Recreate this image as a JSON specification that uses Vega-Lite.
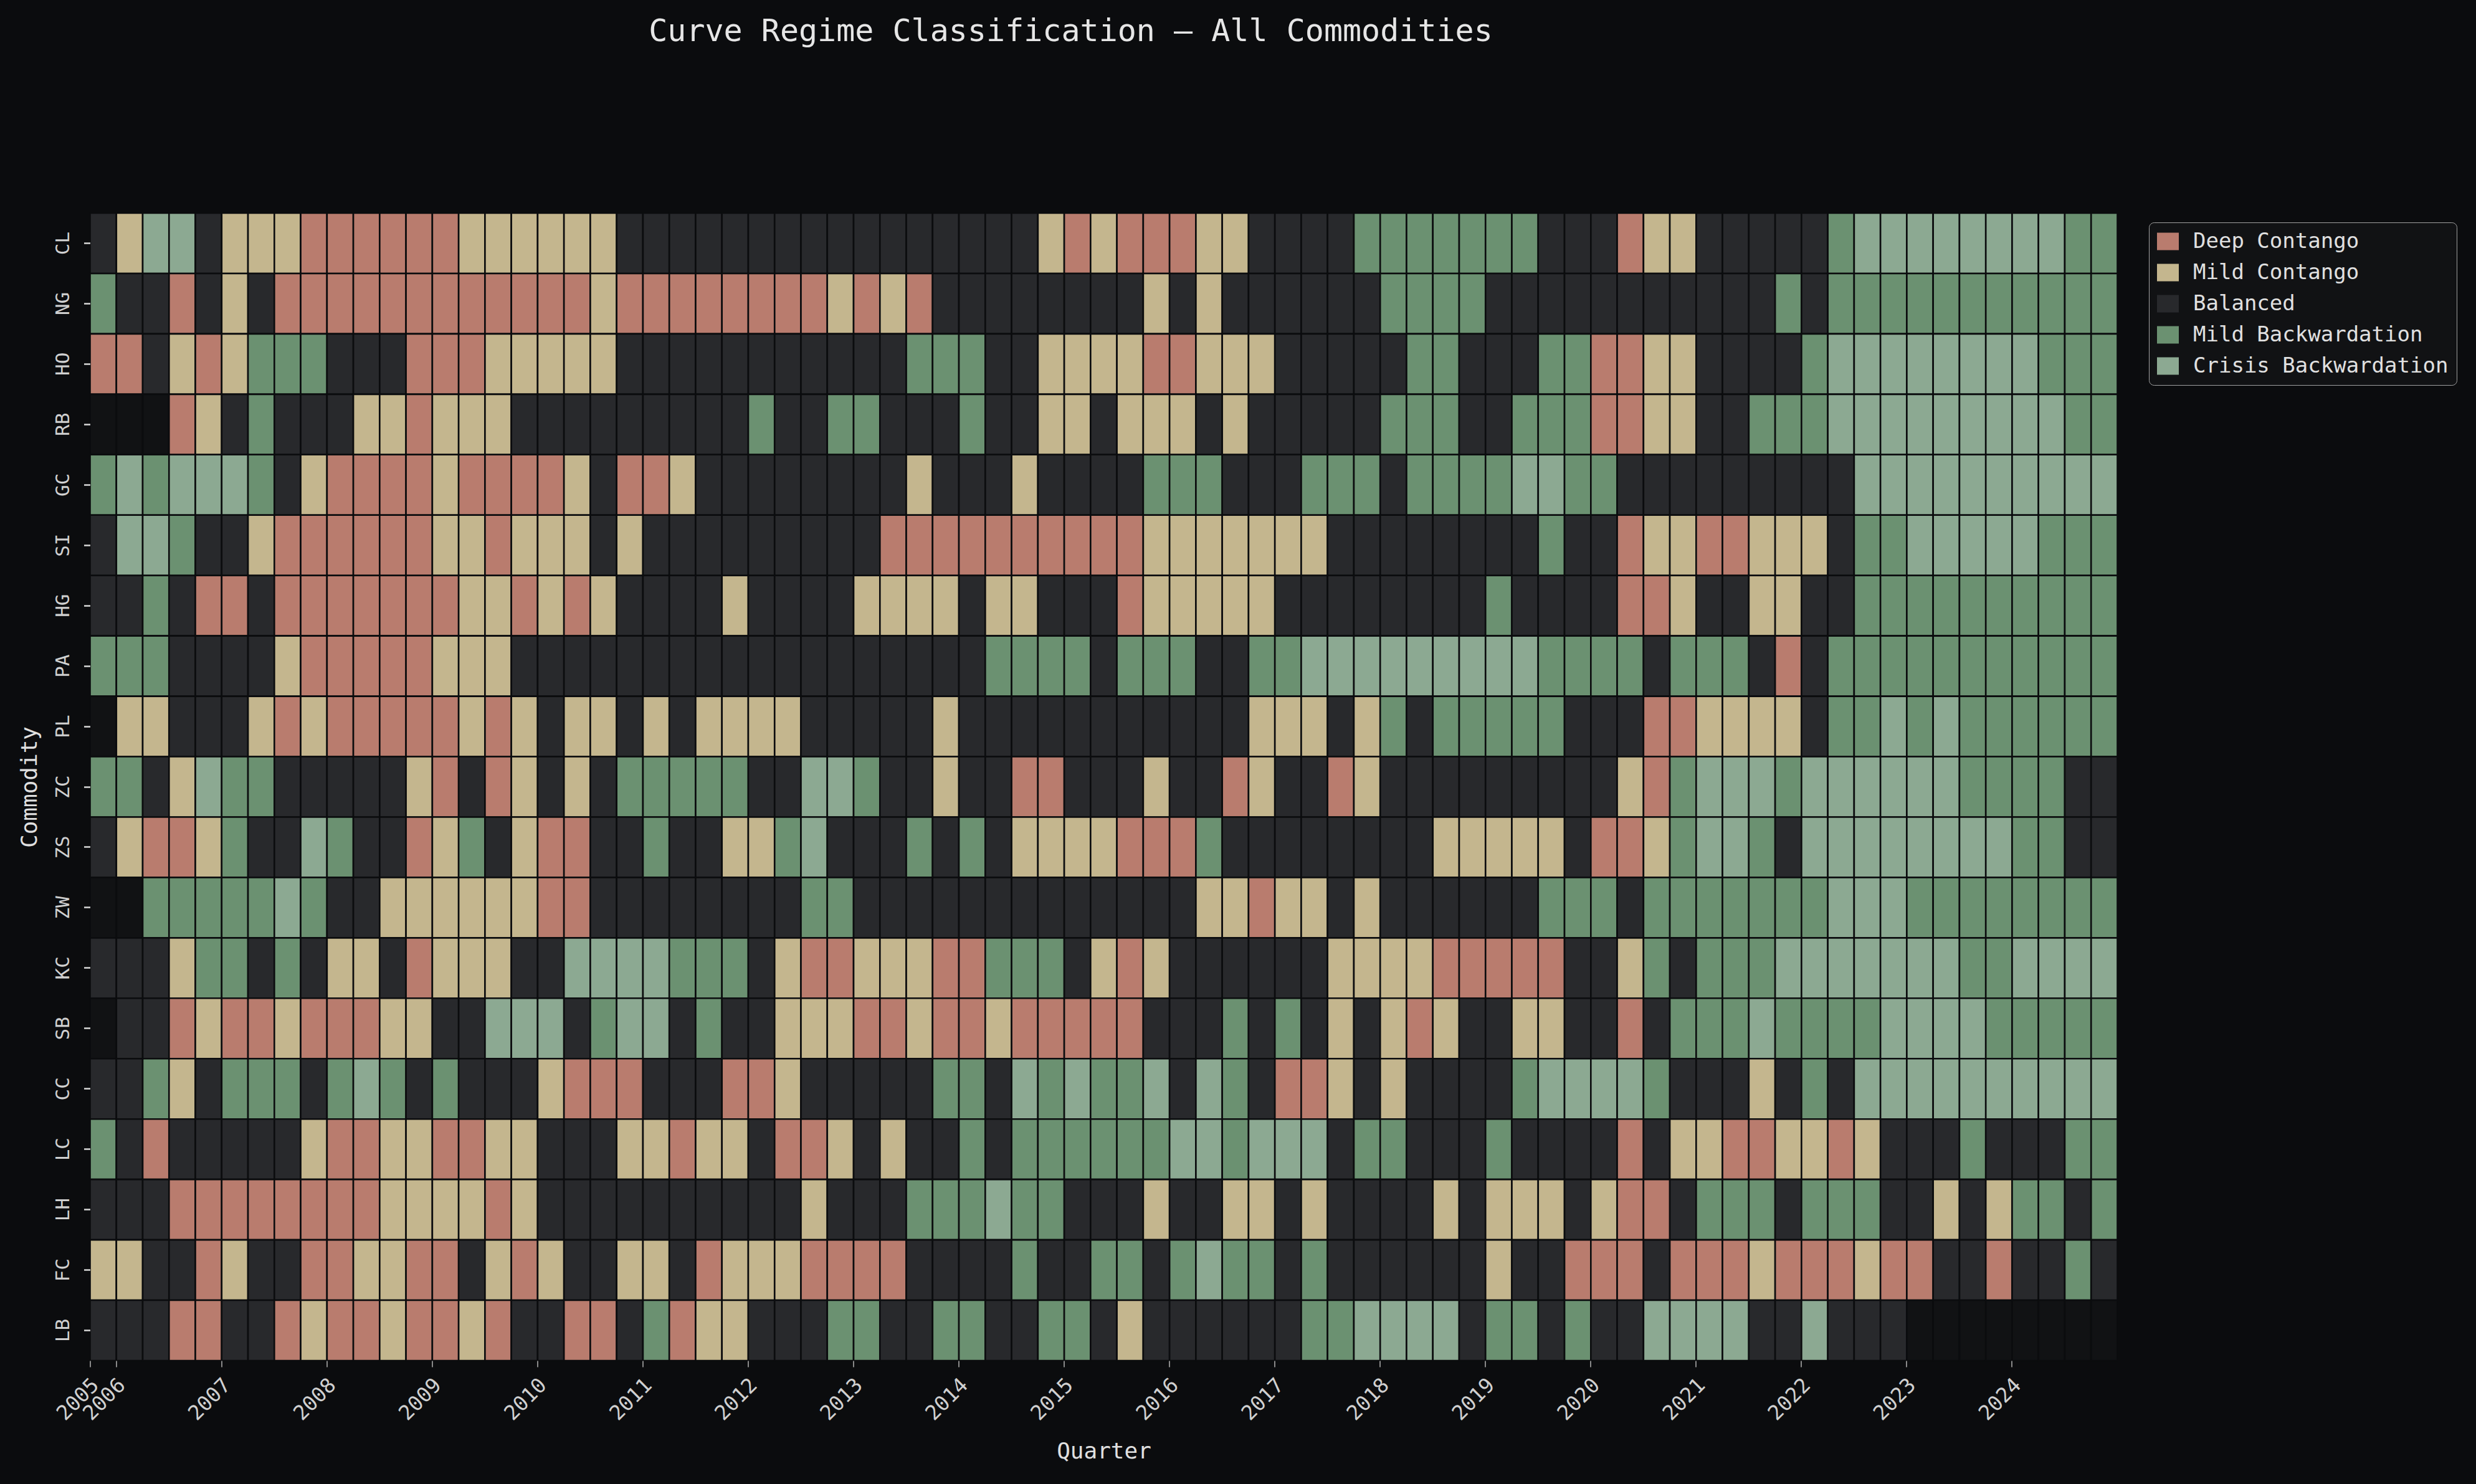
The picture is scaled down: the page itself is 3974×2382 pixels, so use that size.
{
"$schema": "https://vega.github.io/schema/vega-lite/v6.json",
"width": 3254, "height": 1842,
"autosize": {"type": "none"},
"padding": {"left": 144.5, "top": 342, "right": 575.5, "bottom": 198},
"background": "#0b0c0e",
"config": {"view": {"stroke": null, "fill": "#0b0c0e"}, "font": "DejaVu Sans Mono"},
"title": {"text": "Curve Regime Classification — All Commodities", "font": "DejaVu Sans Mono", "fontSize": 50, "fontWeight": "normal", "color": "#e6e6e6", "anchor": "middle", "dx": -53, "baseline": "middle", "offset": 240},
"datasets": {"regimes": [
{"r":"D","regime":"Deep Contango"},{"r":"M","regime":"Mild Contango"},{"r":"B","regime":"Balanced"},{"r":"G","regime":"Mild Backwardation"},{"r":"C","regime":"Crisis Backwardation"},{"r":"N","regime":"No Data"}]},
"data": {"values": [
{"c":"CL","q":"2005Q4","r":"B"},
{"c":"CL","q":"2006Q1","r":"M"},{"c":"CL","q":"2006Q2","r":"C"},{"c":"CL","q":"2006Q3","r":"C"},{"c":"CL","q":"2006Q4","r":"B"},
{"c":"CL","q":"2007Q1","r":"M"},{"c":"CL","q":"2007Q2","r":"M"},{"c":"CL","q":"2007Q3","r":"M"},{"c":"CL","q":"2007Q4","r":"D"},
{"c":"CL","q":"2008Q1","r":"D"},{"c":"CL","q":"2008Q2","r":"D"},{"c":"CL","q":"2008Q3","r":"D"},{"c":"CL","q":"2008Q4","r":"D"},
{"c":"CL","q":"2009Q1","r":"D"},{"c":"CL","q":"2009Q2","r":"M"},{"c":"CL","q":"2009Q3","r":"M"},{"c":"CL","q":"2009Q4","r":"M"},
{"c":"CL","q":"2010Q1","r":"M"},{"c":"CL","q":"2010Q2","r":"M"},{"c":"CL","q":"2010Q3","r":"M"},{"c":"CL","q":"2010Q4","r":"B"},
{"c":"CL","q":"2011Q1","r":"B"},{"c":"CL","q":"2011Q2","r":"B"},{"c":"CL","q":"2011Q3","r":"B"},{"c":"CL","q":"2011Q4","r":"B"},
{"c":"CL","q":"2012Q1","r":"B"},{"c":"CL","q":"2012Q2","r":"B"},{"c":"CL","q":"2012Q3","r":"B"},{"c":"CL","q":"2012Q4","r":"B"},
{"c":"CL","q":"2013Q1","r":"B"},{"c":"CL","q":"2013Q2","r":"B"},{"c":"CL","q":"2013Q3","r":"B"},{"c":"CL","q":"2013Q4","r":"B"},
{"c":"CL","q":"2014Q1","r":"B"},{"c":"CL","q":"2014Q2","r":"B"},{"c":"CL","q":"2014Q3","r":"B"},{"c":"CL","q":"2014Q4","r":"M"},
{"c":"CL","q":"2015Q1","r":"D"},{"c":"CL","q":"2015Q2","r":"M"},{"c":"CL","q":"2015Q3","r":"D"},{"c":"CL","q":"2015Q4","r":"D"},
{"c":"CL","q":"2016Q1","r":"D"},{"c":"CL","q":"2016Q2","r":"M"},{"c":"CL","q":"2016Q3","r":"M"},{"c":"CL","q":"2016Q4","r":"B"},
{"c":"CL","q":"2017Q1","r":"B"},{"c":"CL","q":"2017Q2","r":"B"},{"c":"CL","q":"2017Q3","r":"B"},{"c":"CL","q":"2017Q4","r":"G"},
{"c":"CL","q":"2018Q1","r":"G"},{"c":"CL","q":"2018Q2","r":"G"},{"c":"CL","q":"2018Q3","r":"G"},{"c":"CL","q":"2018Q4","r":"G"},
{"c":"CL","q":"2019Q1","r":"G"},{"c":"CL","q":"2019Q2","r":"G"},{"c":"CL","q":"2019Q3","r":"B"},{"c":"CL","q":"2019Q4","r":"B"},
{"c":"CL","q":"2020Q1","r":"B"},{"c":"CL","q":"2020Q2","r":"D"},{"c":"CL","q":"2020Q3","r":"M"},{"c":"CL","q":"2020Q4","r":"M"},
{"c":"CL","q":"2021Q1","r":"B"},{"c":"CL","q":"2021Q2","r":"B"},{"c":"CL","q":"2021Q3","r":"B"},{"c":"CL","q":"2021Q4","r":"B"},
{"c":"CL","q":"2022Q1","r":"B"},{"c":"CL","q":"2022Q2","r":"G"},{"c":"CL","q":"2022Q3","r":"C"},{"c":"CL","q":"2022Q4","r":"C"},
{"c":"CL","q":"2023Q1","r":"C"},{"c":"CL","q":"2023Q2","r":"C"},{"c":"CL","q":"2023Q3","r":"C"},{"c":"CL","q":"2023Q4","r":"C"},
{"c":"CL","q":"2024Q1","r":"C"},{"c":"CL","q":"2024Q2","r":"C"},{"c":"CL","q":"2024Q3","r":"G"},{"c":"CL","q":"2024Q4","r":"G"},
{"c":"NG","q":"2005Q4","r":"G"},
{"c":"NG","q":"2006Q1","r":"B"},{"c":"NG","q":"2006Q2","r":"B"},{"c":"NG","q":"2006Q3","r":"D"},{"c":"NG","q":"2006Q4","r":"B"},
{"c":"NG","q":"2007Q1","r":"M"},{"c":"NG","q":"2007Q2","r":"B"},{"c":"NG","q":"2007Q3","r":"D"},{"c":"NG","q":"2007Q4","r":"D"},
{"c":"NG","q":"2008Q1","r":"D"},{"c":"NG","q":"2008Q2","r":"D"},{"c":"NG","q":"2008Q3","r":"D"},{"c":"NG","q":"2008Q4","r":"D"},
{"c":"NG","q":"2009Q1","r":"D"},{"c":"NG","q":"2009Q2","r":"D"},{"c":"NG","q":"2009Q3","r":"D"},{"c":"NG","q":"2009Q4","r":"D"},
{"c":"NG","q":"2010Q1","r":"D"},{"c":"NG","q":"2010Q2","r":"D"},{"c":"NG","q":"2010Q3","r":"M"},{"c":"NG","q":"2010Q4","r":"D"},
{"c":"NG","q":"2011Q1","r":"D"},{"c":"NG","q":"2011Q2","r":"D"},{"c":"NG","q":"2011Q3","r":"D"},{"c":"NG","q":"2011Q4","r":"D"},
{"c":"NG","q":"2012Q1","r":"D"},{"c":"NG","q":"2012Q2","r":"D"},{"c":"NG","q":"2012Q3","r":"D"},{"c":"NG","q":"2012Q4","r":"M"},
{"c":"NG","q":"2013Q1","r":"D"},{"c":"NG","q":"2013Q2","r":"M"},{"c":"NG","q":"2013Q3","r":"D"},{"c":"NG","q":"2013Q4","r":"B"},
{"c":"NG","q":"2014Q1","r":"B"},{"c":"NG","q":"2014Q2","r":"B"},{"c":"NG","q":"2014Q3","r":"B"},{"c":"NG","q":"2014Q4","r":"B"},
{"c":"NG","q":"2015Q1","r":"B"},{"c":"NG","q":"2015Q2","r":"B"},{"c":"NG","q":"2015Q3","r":"B"},{"c":"NG","q":"2015Q4","r":"M"},
{"c":"NG","q":"2016Q1","r":"B"},{"c":"NG","q":"2016Q2","r":"M"},{"c":"NG","q":"2016Q3","r":"B"},{"c":"NG","q":"2016Q4","r":"B"},
{"c":"NG","q":"2017Q1","r":"B"},{"c":"NG","q":"2017Q2","r":"B"},{"c":"NG","q":"2017Q3","r":"B"},{"c":"NG","q":"2017Q4","r":"B"},
{"c":"NG","q":"2018Q1","r":"G"},{"c":"NG","q":"2018Q2","r":"G"},{"c":"NG","q":"2018Q3","r":"G"},{"c":"NG","q":"2018Q4","r":"G"},
{"c":"NG","q":"2019Q1","r":"B"},{"c":"NG","q":"2019Q2","r":"B"},{"c":"NG","q":"2019Q3","r":"B"},{"c":"NG","q":"2019Q4","r":"B"},
{"c":"NG","q":"2020Q1","r":"B"},{"c":"NG","q":"2020Q2","r":"B"},{"c":"NG","q":"2020Q3","r":"B"},{"c":"NG","q":"2020Q4","r":"B"},
{"c":"NG","q":"2021Q1","r":"B"},{"c":"NG","q":"2021Q2","r":"B"},{"c":"NG","q":"2021Q3","r":"B"},{"c":"NG","q":"2021Q4","r":"G"},
{"c":"NG","q":"2022Q1","r":"B"},{"c":"NG","q":"2022Q2","r":"G"},{"c":"NG","q":"2022Q3","r":"G"},{"c":"NG","q":"2022Q4","r":"G"},
{"c":"NG","q":"2023Q1","r":"G"},{"c":"NG","q":"2023Q2","r":"G"},{"c":"NG","q":"2023Q3","r":"G"},{"c":"NG","q":"2023Q4","r":"G"},
{"c":"NG","q":"2024Q1","r":"G"},{"c":"NG","q":"2024Q2","r":"G"},{"c":"NG","q":"2024Q3","r":"G"},{"c":"NG","q":"2024Q4","r":"G"},
{"c":"HO","q":"2005Q4","r":"D"},
{"c":"HO","q":"2006Q1","r":"D"},{"c":"HO","q":"2006Q2","r":"B"},{"c":"HO","q":"2006Q3","r":"M"},{"c":"HO","q":"2006Q4","r":"D"},
{"c":"HO","q":"2007Q1","r":"M"},{"c":"HO","q":"2007Q2","r":"G"},{"c":"HO","q":"2007Q3","r":"G"},{"c":"HO","q":"2007Q4","r":"G"},
{"c":"HO","q":"2008Q1","r":"B"},{"c":"HO","q":"2008Q2","r":"B"},{"c":"HO","q":"2008Q3","r":"B"},{"c":"HO","q":"2008Q4","r":"D"},
{"c":"HO","q":"2009Q1","r":"D"},{"c":"HO","q":"2009Q2","r":"D"},{"c":"HO","q":"2009Q3","r":"M"},{"c":"HO","q":"2009Q4","r":"M"},
{"c":"HO","q":"2010Q1","r":"M"},{"c":"HO","q":"2010Q2","r":"M"},{"c":"HO","q":"2010Q3","r":"M"},{"c":"HO","q":"2010Q4","r":"B"},
{"c":"HO","q":"2011Q1","r":"B"},{"c":"HO","q":"2011Q2","r":"B"},{"c":"HO","q":"2011Q3","r":"B"},{"c":"HO","q":"2011Q4","r":"B"},
{"c":"HO","q":"2012Q1","r":"B"},{"c":"HO","q":"2012Q2","r":"B"},{"c":"HO","q":"2012Q3","r":"B"},{"c":"HO","q":"2012Q4","r":"B"},
{"c":"HO","q":"2013Q1","r":"B"},{"c":"HO","q":"2013Q2","r":"B"},{"c":"HO","q":"2013Q3","r":"G"},{"c":"HO","q":"2013Q4","r":"G"},
{"c":"HO","q":"2014Q1","r":"G"},{"c":"HO","q":"2014Q2","r":"B"},{"c":"HO","q":"2014Q3","r":"B"},{"c":"HO","q":"2014Q4","r":"M"},
{"c":"HO","q":"2015Q1","r":"M"},{"c":"HO","q":"2015Q2","r":"M"},{"c":"HO","q":"2015Q3","r":"M"},{"c":"HO","q":"2015Q4","r":"D"},
{"c":"HO","q":"2016Q1","r":"D"},{"c":"HO","q":"2016Q2","r":"M"},{"c":"HO","q":"2016Q3","r":"M"},{"c":"HO","q":"2016Q4","r":"M"},
{"c":"HO","q":"2017Q1","r":"B"},{"c":"HO","q":"2017Q2","r":"B"},{"c":"HO","q":"2017Q3","r":"B"},{"c":"HO","q":"2017Q4","r":"B"},
{"c":"HO","q":"2018Q1","r":"B"},{"c":"HO","q":"2018Q2","r":"G"},{"c":"HO","q":"2018Q3","r":"G"},{"c":"HO","q":"2018Q4","r":"B"},
{"c":"HO","q":"2019Q1","r":"B"},{"c":"HO","q":"2019Q2","r":"B"},{"c":"HO","q":"2019Q3","r":"G"},{"c":"HO","q":"2019Q4","r":"G"},
{"c":"HO","q":"2020Q1","r":"D"},{"c":"HO","q":"2020Q2","r":"D"},{"c":"HO","q":"2020Q3","r":"M"},{"c":"HO","q":"2020Q4","r":"M"},
{"c":"HO","q":"2021Q1","r":"B"},{"c":"HO","q":"2021Q2","r":"B"},{"c":"HO","q":"2021Q3","r":"B"},{"c":"HO","q":"2021Q4","r":"B"},
{"c":"HO","q":"2022Q1","r":"G"},{"c":"HO","q":"2022Q2","r":"C"},{"c":"HO","q":"2022Q3","r":"C"},{"c":"HO","q":"2022Q4","r":"C"},
{"c":"HO","q":"2023Q1","r":"C"},{"c":"HO","q":"2023Q2","r":"C"},{"c":"HO","q":"2023Q3","r":"C"},{"c":"HO","q":"2023Q4","r":"C"},
{"c":"HO","q":"2024Q1","r":"C"},{"c":"HO","q":"2024Q2","r":"G"},{"c":"HO","q":"2024Q3","r":"G"},{"c":"HO","q":"2024Q4","r":"G"},
{"c":"RB","q":"2005Q4","r":"N"},
{"c":"RB","q":"2006Q1","r":"N"},{"c":"RB","q":"2006Q2","r":"N"},{"c":"RB","q":"2006Q3","r":"D"},{"c":"RB","q":"2006Q4","r":"M"},
{"c":"RB","q":"2007Q1","r":"B"},{"c":"RB","q":"2007Q2","r":"G"},{"c":"RB","q":"2007Q3","r":"B"},{"c":"RB","q":"2007Q4","r":"B"},
{"c":"RB","q":"2008Q1","r":"B"},{"c":"RB","q":"2008Q2","r":"M"},{"c":"RB","q":"2008Q3","r":"M"},{"c":"RB","q":"2008Q4","r":"D"},
{"c":"RB","q":"2009Q1","r":"M"},{"c":"RB","q":"2009Q2","r":"M"},{"c":"RB","q":"2009Q3","r":"M"},{"c":"RB","q":"2009Q4","r":"B"},
{"c":"RB","q":"2010Q1","r":"B"},{"c":"RB","q":"2010Q2","r":"B"},{"c":"RB","q":"2010Q3","r":"B"},{"c":"RB","q":"2010Q4","r":"B"},
{"c":"RB","q":"2011Q1","r":"B"},{"c":"RB","q":"2011Q2","r":"B"},{"c":"RB","q":"2011Q3","r":"B"},{"c":"RB","q":"2011Q4","r":"B"},
{"c":"RB","q":"2012Q1","r":"G"},{"c":"RB","q":"2012Q2","r":"B"},{"c":"RB","q":"2012Q3","r":"B"},{"c":"RB","q":"2012Q4","r":"G"},
{"c":"RB","q":"2013Q1","r":"G"},{"c":"RB","q":"2013Q2","r":"B"},{"c":"RB","q":"2013Q3","r":"B"},{"c":"RB","q":"2013Q4","r":"B"},
{"c":"RB","q":"2014Q1","r":"G"},{"c":"RB","q":"2014Q2","r":"B"},{"c":"RB","q":"2014Q3","r":"B"},{"c":"RB","q":"2014Q4","r":"M"},
{"c":"RB","q":"2015Q1","r":"M"},{"c":"RB","q":"2015Q2","r":"B"},{"c":"RB","q":"2015Q3","r":"M"},{"c":"RB","q":"2015Q4","r":"M"},
{"c":"RB","q":"2016Q1","r":"M"},{"c":"RB","q":"2016Q2","r":"B"},{"c":"RB","q":"2016Q3","r":"M"},{"c":"RB","q":"2016Q4","r":"B"},
{"c":"RB","q":"2017Q1","r":"B"},{"c":"RB","q":"2017Q2","r":"B"},{"c":"RB","q":"2017Q3","r":"B"},{"c":"RB","q":"2017Q4","r":"B"},
{"c":"RB","q":"2018Q1","r":"G"},{"c":"RB","q":"2018Q2","r":"G"},{"c":"RB","q":"2018Q3","r":"G"},{"c":"RB","q":"2018Q4","r":"B"},
{"c":"RB","q":"2019Q1","r":"B"},{"c":"RB","q":"2019Q2","r":"G"},{"c":"RB","q":"2019Q3","r":"G"},{"c":"RB","q":"2019Q4","r":"G"},
{"c":"RB","q":"2020Q1","r":"D"},{"c":"RB","q":"2020Q2","r":"D"},{"c":"RB","q":"2020Q3","r":"M"},{"c":"RB","q":"2020Q4","r":"M"},
{"c":"RB","q":"2021Q1","r":"B"},{"c":"RB","q":"2021Q2","r":"B"},{"c":"RB","q":"2021Q3","r":"G"},{"c":"RB","q":"2021Q4","r":"G"},
{"c":"RB","q":"2022Q1","r":"G"},{"c":"RB","q":"2022Q2","r":"C"},{"c":"RB","q":"2022Q3","r":"C"},{"c":"RB","q":"2022Q4","r":"C"},
{"c":"RB","q":"2023Q1","r":"C"},{"c":"RB","q":"2023Q2","r":"C"},{"c":"RB","q":"2023Q3","r":"C"},{"c":"RB","q":"2023Q4","r":"C"},
{"c":"RB","q":"2024Q1","r":"C"},{"c":"RB","q":"2024Q2","r":"C"},{"c":"RB","q":"2024Q3","r":"G"},{"c":"RB","q":"2024Q4","r":"G"},
{"c":"GC","q":"2005Q4","r":"G"},
{"c":"GC","q":"2006Q1","r":"C"},{"c":"GC","q":"2006Q2","r":"G"},{"c":"GC","q":"2006Q3","r":"C"},{"c":"GC","q":"2006Q4","r":"C"},
{"c":"GC","q":"2007Q1","r":"C"},{"c":"GC","q":"2007Q2","r":"G"},{"c":"GC","q":"2007Q3","r":"B"},{"c":"GC","q":"2007Q4","r":"M"},
{"c":"GC","q":"2008Q1","r":"D"},{"c":"GC","q":"2008Q2","r":"D"},{"c":"GC","q":"2008Q3","r":"D"},{"c":"GC","q":"2008Q4","r":"D"},
{"c":"GC","q":"2009Q1","r":"M"},{"c":"GC","q":"2009Q2","r":"D"},{"c":"GC","q":"2009Q3","r":"D"},{"c":"GC","q":"2009Q4","r":"D"},
{"c":"GC","q":"2010Q1","r":"D"},{"c":"GC","q":"2010Q2","r":"M"},{"c":"GC","q":"2010Q3","r":"B"},{"c":"GC","q":"2010Q4","r":"D"},
{"c":"GC","q":"2011Q1","r":"D"},{"c":"GC","q":"2011Q2","r":"M"},{"c":"GC","q":"2011Q3","r":"B"},{"c":"GC","q":"2011Q4","r":"B"},
{"c":"GC","q":"2012Q1","r":"B"},{"c":"GC","q":"2012Q2","r":"B"},{"c":"GC","q":"2012Q3","r":"B"},{"c":"GC","q":"2012Q4","r":"B"},
{"c":"GC","q":"2013Q1","r":"B"},{"c":"GC","q":"2013Q2","r":"B"},{"c":"GC","q":"2013Q3","r":"M"},{"c":"GC","q":"2013Q4","r":"B"},
{"c":"GC","q":"2014Q1","r":"B"},{"c":"GC","q":"2014Q2","r":"B"},{"c":"GC","q":"2014Q3","r":"M"},{"c":"GC","q":"2014Q4","r":"B"},
{"c":"GC","q":"2015Q1","r":"B"},{"c":"GC","q":"2015Q2","r":"B"},{"c":"GC","q":"2015Q3","r":"B"},{"c":"GC","q":"2015Q4","r":"G"},
{"c":"GC","q":"2016Q1","r":"G"},{"c":"GC","q":"2016Q2","r":"G"},{"c":"GC","q":"2016Q3","r":"B"},{"c":"GC","q":"2016Q4","r":"B"},
{"c":"GC","q":"2017Q1","r":"B"},{"c":"GC","q":"2017Q2","r":"G"},{"c":"GC","q":"2017Q3","r":"G"},{"c":"GC","q":"2017Q4","r":"G"},
{"c":"GC","q":"2018Q1","r":"B"},{"c":"GC","q":"2018Q2","r":"G"},{"c":"GC","q":"2018Q3","r":"G"},{"c":"GC","q":"2018Q4","r":"G"},
{"c":"GC","q":"2019Q1","r":"G"},{"c":"GC","q":"2019Q2","r":"C"},{"c":"GC","q":"2019Q3","r":"C"},{"c":"GC","q":"2019Q4","r":"G"},
{"c":"GC","q":"2020Q1","r":"G"},{"c":"GC","q":"2020Q2","r":"B"},{"c":"GC","q":"2020Q3","r":"B"},{"c":"GC","q":"2020Q4","r":"B"},
{"c":"GC","q":"2021Q1","r":"B"},{"c":"GC","q":"2021Q2","r":"B"},{"c":"GC","q":"2021Q3","r":"B"},{"c":"GC","q":"2021Q4","r":"B"},
{"c":"GC","q":"2022Q1","r":"B"},{"c":"GC","q":"2022Q2","r":"B"},{"c":"GC","q":"2022Q3","r":"C"},{"c":"GC","q":"2022Q4","r":"C"},
{"c":"GC","q":"2023Q1","r":"C"},{"c":"GC","q":"2023Q2","r":"C"},{"c":"GC","q":"2023Q3","r":"C"},{"c":"GC","q":"2023Q4","r":"C"},
{"c":"GC","q":"2024Q1","r":"C"},{"c":"GC","q":"2024Q2","r":"C"},{"c":"GC","q":"2024Q3","r":"C"},{"c":"GC","q":"2024Q4","r":"C"},
{"c":"SI","q":"2005Q4","r":"B"},
{"c":"SI","q":"2006Q1","r":"C"},{"c":"SI","q":"2006Q2","r":"C"},{"c":"SI","q":"2006Q3","r":"G"},{"c":"SI","q":"2006Q4","r":"B"},
{"c":"SI","q":"2007Q1","r":"B"},{"c":"SI","q":"2007Q2","r":"M"},{"c":"SI","q":"2007Q3","r":"D"},{"c":"SI","q":"2007Q4","r":"D"},
{"c":"SI","q":"2008Q1","r":"D"},{"c":"SI","q":"2008Q2","r":"D"},{"c":"SI","q":"2008Q3","r":"D"},{"c":"SI","q":"2008Q4","r":"D"},
{"c":"SI","q":"2009Q1","r":"M"},{"c":"SI","q":"2009Q2","r":"M"},{"c":"SI","q":"2009Q3","r":"D"},{"c":"SI","q":"2009Q4","r":"M"},
{"c":"SI","q":"2010Q1","r":"M"},{"c":"SI","q":"2010Q2","r":"M"},{"c":"SI","q":"2010Q3","r":"B"},{"c":"SI","q":"2010Q4","r":"M"},
{"c":"SI","q":"2011Q1","r":"B"},{"c":"SI","q":"2011Q2","r":"B"},{"c":"SI","q":"2011Q3","r":"B"},{"c":"SI","q":"2011Q4","r":"B"},
{"c":"SI","q":"2012Q1","r":"B"},{"c":"SI","q":"2012Q2","r":"B"},{"c":"SI","q":"2012Q3","r":"B"},{"c":"SI","q":"2012Q4","r":"B"},
{"c":"SI","q":"2013Q1","r":"B"},{"c":"SI","q":"2013Q2","r":"D"},{"c":"SI","q":"2013Q3","r":"D"},{"c":"SI","q":"2013Q4","r":"D"},
{"c":"SI","q":"2014Q1","r":"D"},{"c":"SI","q":"2014Q2","r":"D"},{"c":"SI","q":"2014Q3","r":"D"},{"c":"SI","q":"2014Q4","r":"D"},
{"c":"SI","q":"2015Q1","r":"D"},{"c":"SI","q":"2015Q2","r":"D"},{"c":"SI","q":"2015Q3","r":"D"},{"c":"SI","q":"2015Q4","r":"M"},
{"c":"SI","q":"2016Q1","r":"M"},{"c":"SI","q":"2016Q2","r":"M"},{"c":"SI","q":"2016Q3","r":"M"},{"c":"SI","q":"2016Q4","r":"M"},
{"c":"SI","q":"2017Q1","r":"M"},{"c":"SI","q":"2017Q2","r":"M"},{"c":"SI","q":"2017Q3","r":"B"},{"c":"SI","q":"2017Q4","r":"B"},
{"c":"SI","q":"2018Q1","r":"B"},{"c":"SI","q":"2018Q2","r":"B"},{"c":"SI","q":"2018Q3","r":"B"},{"c":"SI","q":"2018Q4","r":"B"},
{"c":"SI","q":"2019Q1","r":"B"},{"c":"SI","q":"2019Q2","r":"B"},{"c":"SI","q":"2019Q3","r":"G"},{"c":"SI","q":"2019Q4","r":"B"},
{"c":"SI","q":"2020Q1","r":"B"},{"c":"SI","q":"2020Q2","r":"D"},{"c":"SI","q":"2020Q3","r":"M"},{"c":"SI","q":"2020Q4","r":"M"},
{"c":"SI","q":"2021Q1","r":"D"},{"c":"SI","q":"2021Q2","r":"D"},{"c":"SI","q":"2021Q3","r":"M"},{"c":"SI","q":"2021Q4","r":"M"},
{"c":"SI","q":"2022Q1","r":"M"},{"c":"SI","q":"2022Q2","r":"B"},{"c":"SI","q":"2022Q3","r":"G"},{"c":"SI","q":"2022Q4","r":"G"},
{"c":"SI","q":"2023Q1","r":"C"},{"c":"SI","q":"2023Q2","r":"C"},{"c":"SI","q":"2023Q3","r":"C"},{"c":"SI","q":"2023Q4","r":"C"},
{"c":"SI","q":"2024Q1","r":"C"},{"c":"SI","q":"2024Q2","r":"G"},{"c":"SI","q":"2024Q3","r":"G"},{"c":"SI","q":"2024Q4","r":"G"},
{"c":"HG","q":"2005Q4","r":"B"},
{"c":"HG","q":"2006Q1","r":"B"},{"c":"HG","q":"2006Q2","r":"G"},{"c":"HG","q":"2006Q3","r":"B"},{"c":"HG","q":"2006Q4","r":"D"},
{"c":"HG","q":"2007Q1","r":"D"},{"c":"HG","q":"2007Q2","r":"B"},{"c":"HG","q":"2007Q3","r":"D"},{"c":"HG","q":"2007Q4","r":"D"},
{"c":"HG","q":"2008Q1","r":"D"},{"c":"HG","q":"2008Q2","r":"D"},{"c":"HG","q":"2008Q3","r":"D"},{"c":"HG","q":"2008Q4","r":"D"},
{"c":"HG","q":"2009Q1","r":"D"},{"c":"HG","q":"2009Q2","r":"M"},{"c":"HG","q":"2009Q3","r":"M"},{"c":"HG","q":"2009Q4","r":"D"},
{"c":"HG","q":"2010Q1","r":"M"},{"c":"HG","q":"2010Q2","r":"D"},{"c":"HG","q":"2010Q3","r":"M"},{"c":"HG","q":"2010Q4","r":"B"},
{"c":"HG","q":"2011Q1","r":"B"},{"c":"HG","q":"2011Q2","r":"B"},{"c":"HG","q":"2011Q3","r":"B"},{"c":"HG","q":"2011Q4","r":"M"},
{"c":"HG","q":"2012Q1","r":"B"},{"c":"HG","q":"2012Q2","r":"B"},{"c":"HG","q":"2012Q3","r":"B"},{"c":"HG","q":"2012Q4","r":"B"},
{"c":"HG","q":"2013Q1","r":"M"},{"c":"HG","q":"2013Q2","r":"M"},{"c":"HG","q":"2013Q3","r":"M"},{"c":"HG","q":"2013Q4","r":"M"},
{"c":"HG","q":"2014Q1","r":"B"},{"c":"HG","q":"2014Q2","r":"M"},{"c":"HG","q":"2014Q3","r":"M"},{"c":"HG","q":"2014Q4","r":"B"},
{"c":"HG","q":"2015Q1","r":"B"},{"c":"HG","q":"2015Q2","r":"B"},{"c":"HG","q":"2015Q3","r":"D"},{"c":"HG","q":"2015Q4","r":"M"},
{"c":"HG","q":"2016Q1","r":"M"},{"c":"HG","q":"2016Q2","r":"M"},{"c":"HG","q":"2016Q3","r":"M"},{"c":"HG","q":"2016Q4","r":"M"},
{"c":"HG","q":"2017Q1","r":"B"},{"c":"HG","q":"2017Q2","r":"B"},{"c":"HG","q":"2017Q3","r":"B"},{"c":"HG","q":"2017Q4","r":"B"},
{"c":"HG","q":"2018Q1","r":"B"},{"c":"HG","q":"2018Q2","r":"B"},{"c":"HG","q":"2018Q3","r":"B"},{"c":"HG","q":"2018Q4","r":"B"},
{"c":"HG","q":"2019Q1","r":"G"},{"c":"HG","q":"2019Q2","r":"B"},{"c":"HG","q":"2019Q3","r":"B"},{"c":"HG","q":"2019Q4","r":"B"},
{"c":"HG","q":"2020Q1","r":"B"},{"c":"HG","q":"2020Q2","r":"D"},{"c":"HG","q":"2020Q3","r":"D"},{"c":"HG","q":"2020Q4","r":"M"},
{"c":"HG","q":"2021Q1","r":"B"},{"c":"HG","q":"2021Q2","r":"B"},{"c":"HG","q":"2021Q3","r":"M"},{"c":"HG","q":"2021Q4","r":"M"},
{"c":"HG","q":"2022Q1","r":"B"},{"c":"HG","q":"2022Q2","r":"B"},{"c":"HG","q":"2022Q3","r":"G"},{"c":"HG","q":"2022Q4","r":"G"},
{"c":"HG","q":"2023Q1","r":"G"},{"c":"HG","q":"2023Q2","r":"G"},{"c":"HG","q":"2023Q3","r":"G"},{"c":"HG","q":"2023Q4","r":"G"},
{"c":"HG","q":"2024Q1","r":"G"},{"c":"HG","q":"2024Q2","r":"G"},{"c":"HG","q":"2024Q3","r":"G"},{"c":"HG","q":"2024Q4","r":"G"},
{"c":"PA","q":"2005Q4","r":"G"},
{"c":"PA","q":"2006Q1","r":"G"},{"c":"PA","q":"2006Q2","r":"G"},{"c":"PA","q":"2006Q3","r":"B"},{"c":"PA","q":"2006Q4","r":"B"},
{"c":"PA","q":"2007Q1","r":"B"},{"c":"PA","q":"2007Q2","r":"B"},{"c":"PA","q":"2007Q3","r":"M"},{"c":"PA","q":"2007Q4","r":"D"},
{"c":"PA","q":"2008Q1","r":"D"},{"c":"PA","q":"2008Q2","r":"D"},{"c":"PA","q":"2008Q3","r":"D"},{"c":"PA","q":"2008Q4","r":"D"},
{"c":"PA","q":"2009Q1","r":"M"},{"c":"PA","q":"2009Q2","r":"M"},{"c":"PA","q":"2009Q3","r":"M"},{"c":"PA","q":"2009Q4","r":"B"},
{"c":"PA","q":"2010Q1","r":"B"},{"c":"PA","q":"2010Q2","r":"B"},{"c":"PA","q":"2010Q3","r":"B"},{"c":"PA","q":"2010Q4","r":"B"},
{"c":"PA","q":"2011Q1","r":"B"},{"c":"PA","q":"2011Q2","r":"B"},{"c":"PA","q":"2011Q3","r":"B"},{"c":"PA","q":"2011Q4","r":"B"},
{"c":"PA","q":"2012Q1","r":"B"},{"c":"PA","q":"2012Q2","r":"B"},{"c":"PA","q":"2012Q3","r":"B"},{"c":"PA","q":"2012Q4","r":"B"},
{"c":"PA","q":"2013Q1","r":"B"},{"c":"PA","q":"2013Q2","r":"B"},{"c":"PA","q":"2013Q3","r":"B"},{"c":"PA","q":"2013Q4","r":"B"},
{"c":"PA","q":"2014Q1","r":"B"},{"c":"PA","q":"2014Q2","r":"G"},{"c":"PA","q":"2014Q3","r":"G"},{"c":"PA","q":"2014Q4","r":"G"},
{"c":"PA","q":"2015Q1","r":"G"},{"c":"PA","q":"2015Q2","r":"B"},{"c":"PA","q":"2015Q3","r":"G"},{"c":"PA","q":"2015Q4","r":"G"},
{"c":"PA","q":"2016Q1","r":"G"},{"c":"PA","q":"2016Q2","r":"B"},{"c":"PA","q":"2016Q3","r":"B"},{"c":"PA","q":"2016Q4","r":"G"},
{"c":"PA","q":"2017Q1","r":"G"},{"c":"PA","q":"2017Q2","r":"C"},{"c":"PA","q":"2017Q3","r":"C"},{"c":"PA","q":"2017Q4","r":"C"},
{"c":"PA","q":"2018Q1","r":"C"},{"c":"PA","q":"2018Q2","r":"C"},{"c":"PA","q":"2018Q3","r":"C"},{"c":"PA","q":"2018Q4","r":"C"},
{"c":"PA","q":"2019Q1","r":"C"},{"c":"PA","q":"2019Q2","r":"C"},{"c":"PA","q":"2019Q3","r":"G"},{"c":"PA","q":"2019Q4","r":"G"},
{"c":"PA","q":"2020Q1","r":"G"},{"c":"PA","q":"2020Q2","r":"G"},{"c":"PA","q":"2020Q3","r":"B"},{"c":"PA","q":"2020Q4","r":"G"},
{"c":"PA","q":"2021Q1","r":"G"},{"c":"PA","q":"2021Q2","r":"G"},{"c":"PA","q":"2021Q3","r":"B"},{"c":"PA","q":"2021Q4","r":"D"},
{"c":"PA","q":"2022Q1","r":"B"},{"c":"PA","q":"2022Q2","r":"G"},{"c":"PA","q":"2022Q3","r":"G"},{"c":"PA","q":"2022Q4","r":"G"},
{"c":"PA","q":"2023Q1","r":"G"},{"c":"PA","q":"2023Q2","r":"G"},{"c":"PA","q":"2023Q3","r":"G"},{"c":"PA","q":"2023Q4","r":"G"},
{"c":"PA","q":"2024Q1","r":"G"},{"c":"PA","q":"2024Q2","r":"G"},{"c":"PA","q":"2024Q3","r":"G"},{"c":"PA","q":"2024Q4","r":"G"},
{"c":"PL","q":"2005Q4","r":"N"},
{"c":"PL","q":"2006Q1","r":"M"},{"c":"PL","q":"2006Q2","r":"M"},{"c":"PL","q":"2006Q3","r":"B"},{"c":"PL","q":"2006Q4","r":"B"},
{"c":"PL","q":"2007Q1","r":"B"},{"c":"PL","q":"2007Q2","r":"M"},{"c":"PL","q":"2007Q3","r":"D"},{"c":"PL","q":"2007Q4","r":"M"},
{"c":"PL","q":"2008Q1","r":"D"},{"c":"PL","q":"2008Q2","r":"D"},{"c":"PL","q":"2008Q3","r":"D"},{"c":"PL","q":"2008Q4","r":"D"},
{"c":"PL","q":"2009Q1","r":"D"},{"c":"PL","q":"2009Q2","r":"M"},{"c":"PL","q":"2009Q3","r":"D"},{"c":"PL","q":"2009Q4","r":"M"},
{"c":"PL","q":"2010Q1","r":"B"},{"c":"PL","q":"2010Q2","r":"M"},{"c":"PL","q":"2010Q3","r":"M"},{"c":"PL","q":"2010Q4","r":"B"},
{"c":"PL","q":"2011Q1","r":"M"},{"c":"PL","q":"2011Q2","r":"B"},{"c":"PL","q":"2011Q3","r":"M"},{"c":"PL","q":"2011Q4","r":"M"},
{"c":"PL","q":"2012Q1","r":"M"},{"c":"PL","q":"2012Q2","r":"M"},{"c":"PL","q":"2012Q3","r":"B"},{"c":"PL","q":"2012Q4","r":"B"},
{"c":"PL","q":"2013Q1","r":"B"},{"c":"PL","q":"2013Q2","r":"B"},{"c":"PL","q":"2013Q3","r":"B"},{"c":"PL","q":"2013Q4","r":"M"},
{"c":"PL","q":"2014Q1","r":"B"},{"c":"PL","q":"2014Q2","r":"B"},{"c":"PL","q":"2014Q3","r":"B"},{"c":"PL","q":"2014Q4","r":"B"},
{"c":"PL","q":"2015Q1","r":"B"},{"c":"PL","q":"2015Q2","r":"B"},{"c":"PL","q":"2015Q3","r":"B"},{"c":"PL","q":"2015Q4","r":"B"},
{"c":"PL","q":"2016Q1","r":"B"},{"c":"PL","q":"2016Q2","r":"B"},{"c":"PL","q":"2016Q3","r":"B"},{"c":"PL","q":"2016Q4","r":"M"},
{"c":"PL","q":"2017Q1","r":"M"},{"c":"PL","q":"2017Q2","r":"M"},{"c":"PL","q":"2017Q3","r":"B"},{"c":"PL","q":"2017Q4","r":"M"},
{"c":"PL","q":"2018Q1","r":"G"},{"c":"PL","q":"2018Q2","r":"B"},{"c":"PL","q":"2018Q3","r":"G"},{"c":"PL","q":"2018Q4","r":"G"},
{"c":"PL","q":"2019Q1","r":"G"},{"c":"PL","q":"2019Q2","r":"G"},{"c":"PL","q":"2019Q3","r":"G"},{"c":"PL","q":"2019Q4","r":"B"},
{"c":"PL","q":"2020Q1","r":"B"},{"c":"PL","q":"2020Q2","r":"B"},{"c":"PL","q":"2020Q3","r":"D"},{"c":"PL","q":"2020Q4","r":"D"},
{"c":"PL","q":"2021Q1","r":"M"},{"c":"PL","q":"2021Q2","r":"M"},{"c":"PL","q":"2021Q3","r":"M"},{"c":"PL","q":"2021Q4","r":"M"},
{"c":"PL","q":"2022Q1","r":"B"},{"c":"PL","q":"2022Q2","r":"G"},{"c":"PL","q":"2022Q3","r":"G"},{"c":"PL","q":"2022Q4","r":"C"},
{"c":"PL","q":"2023Q1","r":"G"},{"c":"PL","q":"2023Q2","r":"C"},{"c":"PL","q":"2023Q3","r":"G"},{"c":"PL","q":"2023Q4","r":"G"},
{"c":"PL","q":"2024Q1","r":"G"},{"c":"PL","q":"2024Q2","r":"G"},{"c":"PL","q":"2024Q3","r":"G"},{"c":"PL","q":"2024Q4","r":"G"},
{"c":"ZC","q":"2005Q4","r":"G"},
{"c":"ZC","q":"2006Q1","r":"G"},{"c":"ZC","q":"2006Q2","r":"B"},{"c":"ZC","q":"2006Q3","r":"M"},{"c":"ZC","q":"2006Q4","r":"C"},
{"c":"ZC","q":"2007Q1","r":"G"},{"c":"ZC","q":"2007Q2","r":"G"},{"c":"ZC","q":"2007Q3","r":"B"},{"c":"ZC","q":"2007Q4","r":"B"},
{"c":"ZC","q":"2008Q1","r":"B"},{"c":"ZC","q":"2008Q2","r":"B"},{"c":"ZC","q":"2008Q3","r":"B"},{"c":"ZC","q":"2008Q4","r":"M"},
{"c":"ZC","q":"2009Q1","r":"D"},{"c":"ZC","q":"2009Q2","r":"B"},{"c":"ZC","q":"2009Q3","r":"D"},{"c":"ZC","q":"2009Q4","r":"M"},
{"c":"ZC","q":"2010Q1","r":"B"},{"c":"ZC","q":"2010Q2","r":"M"},{"c":"ZC","q":"2010Q3","r":"B"},{"c":"ZC","q":"2010Q4","r":"G"},
{"c":"ZC","q":"2011Q1","r":"G"},{"c":"ZC","q":"2011Q2","r":"G"},{"c":"ZC","q":"2011Q3","r":"G"},{"c":"ZC","q":"2011Q4","r":"G"},
{"c":"ZC","q":"2012Q1","r":"B"},{"c":"ZC","q":"2012Q2","r":"B"},{"c":"ZC","q":"2012Q3","r":"C"},{"c":"ZC","q":"2012Q4","r":"C"},
{"c":"ZC","q":"2013Q1","r":"G"},{"c":"ZC","q":"2013Q2","r":"B"},{"c":"ZC","q":"2013Q3","r":"B"},{"c":"ZC","q":"2013Q4","r":"M"},
{"c":"ZC","q":"2014Q1","r":"B"},{"c":"ZC","q":"2014Q2","r":"B"},{"c":"ZC","q":"2014Q3","r":"D"},{"c":"ZC","q":"2014Q4","r":"D"},
{"c":"ZC","q":"2015Q1","r":"B"},{"c":"ZC","q":"2015Q2","r":"B"},{"c":"ZC","q":"2015Q3","r":"B"},{"c":"ZC","q":"2015Q4","r":"M"},
{"c":"ZC","q":"2016Q1","r":"B"},{"c":"ZC","q":"2016Q2","r":"B"},{"c":"ZC","q":"2016Q3","r":"D"},{"c":"ZC","q":"2016Q4","r":"M"},
{"c":"ZC","q":"2017Q1","r":"B"},{"c":"ZC","q":"2017Q2","r":"B"},{"c":"ZC","q":"2017Q3","r":"D"},{"c":"ZC","q":"2017Q4","r":"M"},
{"c":"ZC","q":"2018Q1","r":"B"},{"c":"ZC","q":"2018Q2","r":"B"},{"c":"ZC","q":"2018Q3","r":"B"},{"c":"ZC","q":"2018Q4","r":"B"},
{"c":"ZC","q":"2019Q1","r":"B"},{"c":"ZC","q":"2019Q2","r":"B"},{"c":"ZC","q":"2019Q3","r":"B"},{"c":"ZC","q":"2019Q4","r":"B"},
{"c":"ZC","q":"2020Q1","r":"B"},{"c":"ZC","q":"2020Q2","r":"M"},{"c":"ZC","q":"2020Q3","r":"D"},{"c":"ZC","q":"2020Q4","r":"G"},
{"c":"ZC","q":"2021Q1","r":"C"},{"c":"ZC","q":"2021Q2","r":"C"},{"c":"ZC","q":"2021Q3","r":"C"},{"c":"ZC","q":"2021Q4","r":"G"},
{"c":"ZC","q":"2022Q1","r":"C"},{"c":"ZC","q":"2022Q2","r":"C"},{"c":"ZC","q":"2022Q3","r":"C"},{"c":"ZC","q":"2022Q4","r":"C"},
{"c":"ZC","q":"2023Q1","r":"C"},{"c":"ZC","q":"2023Q2","r":"C"},{"c":"ZC","q":"2023Q3","r":"G"},{"c":"ZC","q":"2023Q4","r":"G"},
{"c":"ZC","q":"2024Q1","r":"G"},{"c":"ZC","q":"2024Q2","r":"G"},{"c":"ZC","q":"2024Q3","r":"B"},{"c":"ZC","q":"2024Q4","r":"B"},
{"c":"ZS","q":"2005Q4","r":"B"},
{"c":"ZS","q":"2006Q1","r":"M"},{"c":"ZS","q":"2006Q2","r":"D"},{"c":"ZS","q":"2006Q3","r":"D"},{"c":"ZS","q":"2006Q4","r":"M"},
{"c":"ZS","q":"2007Q1","r":"G"},{"c":"ZS","q":"2007Q2","r":"B"},{"c":"ZS","q":"2007Q3","r":"B"},{"c":"ZS","q":"2007Q4","r":"C"},
{"c":"ZS","q":"2008Q1","r":"G"},{"c":"ZS","q":"2008Q2","r":"B"},{"c":"ZS","q":"2008Q3","r":"B"},{"c":"ZS","q":"2008Q4","r":"D"},
{"c":"ZS","q":"2009Q1","r":"M"},{"c":"ZS","q":"2009Q2","r":"G"},{"c":"ZS","q":"2009Q3","r":"B"},{"c":"ZS","q":"2009Q4","r":"M"},
{"c":"ZS","q":"2010Q1","r":"D"},{"c":"ZS","q":"2010Q2","r":"D"},{"c":"ZS","q":"2010Q3","r":"B"},{"c":"ZS","q":"2010Q4","r":"B"},
{"c":"ZS","q":"2011Q1","r":"G"},{"c":"ZS","q":"2011Q2","r":"B"},{"c":"ZS","q":"2011Q3","r":"B"},{"c":"ZS","q":"2011Q4","r":"M"},
{"c":"ZS","q":"2012Q1","r":"M"},{"c":"ZS","q":"2012Q2","r":"G"},{"c":"ZS","q":"2012Q3","r":"C"},{"c":"ZS","q":"2012Q4","r":"B"},
{"c":"ZS","q":"2013Q1","r":"B"},{"c":"ZS","q":"2013Q2","r":"B"},{"c":"ZS","q":"2013Q3","r":"G"},{"c":"ZS","q":"2013Q4","r":"B"},
{"c":"ZS","q":"2014Q1","r":"G"},{"c":"ZS","q":"2014Q2","r":"B"},{"c":"ZS","q":"2014Q3","r":"M"},{"c":"ZS","q":"2014Q4","r":"M"},
{"c":"ZS","q":"2015Q1","r":"M"},{"c":"ZS","q":"2015Q2","r":"M"},{"c":"ZS","q":"2015Q3","r":"D"},{"c":"ZS","q":"2015Q4","r":"D"},
{"c":"ZS","q":"2016Q1","r":"D"},{"c":"ZS","q":"2016Q2","r":"G"},{"c":"ZS","q":"2016Q3","r":"B"},{"c":"ZS","q":"2016Q4","r":"B"},
{"c":"ZS","q":"2017Q1","r":"B"},{"c":"ZS","q":"2017Q2","r":"B"},{"c":"ZS","q":"2017Q3","r":"B"},{"c":"ZS","q":"2017Q4","r":"B"},
{"c":"ZS","q":"2018Q1","r":"B"},{"c":"ZS","q":"2018Q2","r":"B"},{"c":"ZS","q":"2018Q3","r":"M"},{"c":"ZS","q":"2018Q4","r":"M"},
{"c":"ZS","q":"2019Q1","r":"M"},{"c":"ZS","q":"2019Q2","r":"M"},{"c":"ZS","q":"2019Q3","r":"M"},{"c":"ZS","q":"2019Q4","r":"B"},
{"c":"ZS","q":"2020Q1","r":"D"},{"c":"ZS","q":"2020Q2","r":"D"},{"c":"ZS","q":"2020Q3","r":"M"},{"c":"ZS","q":"2020Q4","r":"G"},
{"c":"ZS","q":"2021Q1","r":"C"},{"c":"ZS","q":"2021Q2","r":"C"},{"c":"ZS","q":"2021Q3","r":"G"},{"c":"ZS","q":"2021Q4","r":"B"},
{"c":"ZS","q":"2022Q1","r":"C"},{"c":"ZS","q":"2022Q2","r":"C"},{"c":"ZS","q":"2022Q3","r":"C"},{"c":"ZS","q":"2022Q4","r":"C"},
{"c":"ZS","q":"2023Q1","r":"C"},{"c":"ZS","q":"2023Q2","r":"C"},{"c":"ZS","q":"2023Q3","r":"C"},{"c":"ZS","q":"2023Q4","r":"C"},
{"c":"ZS","q":"2024Q1","r":"G"},{"c":"ZS","q":"2024Q2","r":"G"},{"c":"ZS","q":"2024Q3","r":"B"},{"c":"ZS","q":"2024Q4","r":"B"},
{"c":"ZW","q":"2005Q4","r":"N"},
{"c":"ZW","q":"2006Q1","r":"N"},{"c":"ZW","q":"2006Q2","r":"G"},{"c":"ZW","q":"2006Q3","r":"G"},{"c":"ZW","q":"2006Q4","r":"G"},
{"c":"ZW","q":"2007Q1","r":"G"},{"c":"ZW","q":"2007Q2","r":"G"},{"c":"ZW","q":"2007Q3","r":"C"},{"c":"ZW","q":"2007Q4","r":"G"},
{"c":"ZW","q":"2008Q1","r":"B"},{"c":"ZW","q":"2008Q2","r":"B"},{"c":"ZW","q":"2008Q3","r":"M"},{"c":"ZW","q":"2008Q4","r":"M"},
{"c":"ZW","q":"2009Q1","r":"M"},{"c":"ZW","q":"2009Q2","r":"M"},{"c":"ZW","q":"2009Q3","r":"M"},{"c":"ZW","q":"2009Q4","r":"M"},
{"c":"ZW","q":"2010Q1","r":"D"},{"c":"ZW","q":"2010Q2","r":"D"},{"c":"ZW","q":"2010Q3","r":"B"},{"c":"ZW","q":"2010Q4","r":"B"},
{"c":"ZW","q":"2011Q1","r":"B"},{"c":"ZW","q":"2011Q2","r":"B"},{"c":"ZW","q":"2011Q3","r":"B"},{"c":"ZW","q":"2011Q4","r":"B"},
{"c":"ZW","q":"2012Q1","r":"B"},{"c":"ZW","q":"2012Q2","r":"B"},{"c":"ZW","q":"2012Q3","r":"G"},{"c":"ZW","q":"2012Q4","r":"G"},
{"c":"ZW","q":"2013Q1","r":"B"},{"c":"ZW","q":"2013Q2","r":"B"},{"c":"ZW","q":"2013Q3","r":"B"},{"c":"ZW","q":"2013Q4","r":"B"},
{"c":"ZW","q":"2014Q1","r":"B"},{"c":"ZW","q":"2014Q2","r":"B"},{"c":"ZW","q":"2014Q3","r":"B"},{"c":"ZW","q":"2014Q4","r":"B"},
{"c":"ZW","q":"2015Q1","r":"B"},{"c":"ZW","q":"2015Q2","r":"B"},{"c":"ZW","q":"2015Q3","r":"B"},{"c":"ZW","q":"2015Q4","r":"B"},
{"c":"ZW","q":"2016Q1","r":"B"},{"c":"ZW","q":"2016Q2","r":"M"},{"c":"ZW","q":"2016Q3","r":"M"},{"c":"ZW","q":"2016Q4","r":"D"},
{"c":"ZW","q":"2017Q1","r":"M"},{"c":"ZW","q":"2017Q2","r":"M"},{"c":"ZW","q":"2017Q3","r":"B"},{"c":"ZW","q":"2017Q4","r":"M"},
{"c":"ZW","q":"2018Q1","r":"B"},{"c":"ZW","q":"2018Q2","r":"B"},{"c":"ZW","q":"2018Q3","r":"B"},{"c":"ZW","q":"2018Q4","r":"B"},
{"c":"ZW","q":"2019Q1","r":"B"},{"c":"ZW","q":"2019Q2","r":"B"},{"c":"ZW","q":"2019Q3","r":"G"},{"c":"ZW","q":"2019Q4","r":"G"},
{"c":"ZW","q":"2020Q1","r":"G"},{"c":"ZW","q":"2020Q2","r":"B"},{"c":"ZW","q":"2020Q3","r":"G"},{"c":"ZW","q":"2020Q4","r":"G"},
{"c":"ZW","q":"2021Q1","r":"G"},{"c":"ZW","q":"2021Q2","r":"G"},{"c":"ZW","q":"2021Q3","r":"G"},{"c":"ZW","q":"2021Q4","r":"G"},
{"c":"ZW","q":"2022Q1","r":"G"},{"c":"ZW","q":"2022Q2","r":"C"},{"c":"ZW","q":"2022Q3","r":"C"},{"c":"ZW","q":"2022Q4","r":"C"},
{"c":"ZW","q":"2023Q1","r":"G"},{"c":"ZW","q":"2023Q2","r":"G"},{"c":"ZW","q":"2023Q3","r":"G"},{"c":"ZW","q":"2023Q4","r":"G"},
{"c":"ZW","q":"2024Q1","r":"G"},{"c":"ZW","q":"2024Q2","r":"G"},{"c":"ZW","q":"2024Q3","r":"G"},{"c":"ZW","q":"2024Q4","r":"G"},
{"c":"KC","q":"2005Q4","r":"B"},
{"c":"KC","q":"2006Q1","r":"B"},{"c":"KC","q":"2006Q2","r":"B"},{"c":"KC","q":"2006Q3","r":"M"},{"c":"KC","q":"2006Q4","r":"G"},
{"c":"KC","q":"2007Q1","r":"G"},{"c":"KC","q":"2007Q2","r":"B"},{"c":"KC","q":"2007Q3","r":"G"},{"c":"KC","q":"2007Q4","r":"B"},
{"c":"KC","q":"2008Q1","r":"M"},{"c":"KC","q":"2008Q2","r":"M"},{"c":"KC","q":"2008Q3","r":"B"},{"c":"KC","q":"2008Q4","r":"D"},
{"c":"KC","q":"2009Q1","r":"M"},{"c":"KC","q":"2009Q2","r":"M"},{"c":"KC","q":"2009Q3","r":"M"},{"c":"KC","q":"2009Q4","r":"B"},
{"c":"KC","q":"2010Q1","r":"B"},{"c":"KC","q":"2010Q2","r":"C"},{"c":"KC","q":"2010Q3","r":"C"},{"c":"KC","q":"2010Q4","r":"C"},
{"c":"KC","q":"2011Q1","r":"C"},{"c":"KC","q":"2011Q2","r":"G"},{"c":"KC","q":"2011Q3","r":"G"},{"c":"KC","q":"2011Q4","r":"G"},
{"c":"KC","q":"2012Q1","r":"B"},{"c":"KC","q":"2012Q2","r":"M"},{"c":"KC","q":"2012Q3","r":"D"},{"c":"KC","q":"2012Q4","r":"D"},
{"c":"KC","q":"2013Q1","r":"M"},{"c":"KC","q":"2013Q2","r":"M"},{"c":"KC","q":"2013Q3","r":"M"},{"c":"KC","q":"2013Q4","r":"D"},
{"c":"KC","q":"2014Q1","r":"D"},{"c":"KC","q":"2014Q2","r":"G"},{"c":"KC","q":"2014Q3","r":"G"},{"c":"KC","q":"2014Q4","r":"G"},
{"c":"KC","q":"2015Q1","r":"B"},{"c":"KC","q":"2015Q2","r":"M"},{"c":"KC","q":"2015Q3","r":"D"},{"c":"KC","q":"2015Q4","r":"M"},
{"c":"KC","q":"2016Q1","r":"B"},{"c":"KC","q":"2016Q2","r":"B"},{"c":"KC","q":"2016Q3","r":"B"},{"c":"KC","q":"2016Q4","r":"B"},
{"c":"KC","q":"2017Q1","r":"B"},{"c":"KC","q":"2017Q2","r":"B"},{"c":"KC","q":"2017Q3","r":"M"},{"c":"KC","q":"2017Q4","r":"M"},
{"c":"KC","q":"2018Q1","r":"M"},{"c":"KC","q":"2018Q2","r":"M"},{"c":"KC","q":"2018Q3","r":"D"},{"c":"KC","q":"2018Q4","r":"D"},
{"c":"KC","q":"2019Q1","r":"D"},{"c":"KC","q":"2019Q2","r":"D"},{"c":"KC","q":"2019Q3","r":"D"},{"c":"KC","q":"2019Q4","r":"B"},
{"c":"KC","q":"2020Q1","r":"B"},{"c":"KC","q":"2020Q2","r":"M"},{"c":"KC","q":"2020Q3","r":"G"},{"c":"KC","q":"2020Q4","r":"B"},
{"c":"KC","q":"2021Q1","r":"G"},{"c":"KC","q":"2021Q2","r":"G"},{"c":"KC","q":"2021Q3","r":"G"},{"c":"KC","q":"2021Q4","r":"C"},
{"c":"KC","q":"2022Q1","r":"C"},{"c":"KC","q":"2022Q2","r":"C"},{"c":"KC","q":"2022Q3","r":"C"},{"c":"KC","q":"2022Q4","r":"C"},
{"c":"KC","q":"2023Q1","r":"C"},{"c":"KC","q":"2023Q2","r":"C"},{"c":"KC","q":"2023Q3","r":"G"},{"c":"KC","q":"2023Q4","r":"G"},
{"c":"KC","q":"2024Q1","r":"C"},{"c":"KC","q":"2024Q2","r":"C"},{"c":"KC","q":"2024Q3","r":"C"},{"c":"KC","q":"2024Q4","r":"C"},
{"c":"SB","q":"2005Q4","r":"N"},
{"c":"SB","q":"2006Q1","r":"B"},{"c":"SB","q":"2006Q2","r":"B"},{"c":"SB","q":"2006Q3","r":"D"},{"c":"SB","q":"2006Q4","r":"M"},
{"c":"SB","q":"2007Q1","r":"D"},{"c":"SB","q":"2007Q2","r":"D"},{"c":"SB","q":"2007Q3","r":"M"},{"c":"SB","q":"2007Q4","r":"D"},
{"c":"SB","q":"2008Q1","r":"D"},{"c":"SB","q":"2008Q2","r":"D"},{"c":"SB","q":"2008Q3","r":"M"},{"c":"SB","q":"2008Q4","r":"M"},
{"c":"SB","q":"2009Q1","r":"B"},{"c":"SB","q":"2009Q2","r":"B"},{"c":"SB","q":"2009Q3","r":"C"},{"c":"SB","q":"2009Q4","r":"C"},
{"c":"SB","q":"2010Q1","r":"C"},{"c":"SB","q":"2010Q2","r":"B"},{"c":"SB","q":"2010Q3","r":"G"},{"c":"SB","q":"2010Q4","r":"C"},
{"c":"SB","q":"2011Q1","r":"C"},{"c":"SB","q":"2011Q2","r":"B"},{"c":"SB","q":"2011Q3","r":"G"},{"c":"SB","q":"2011Q4","r":"B"},
{"c":"SB","q":"2012Q1","r":"B"},{"c":"SB","q":"2012Q2","r":"M"},{"c":"SB","q":"2012Q3","r":"M"},{"c":"SB","q":"2012Q4","r":"M"},
{"c":"SB","q":"2013Q1","r":"D"},{"c":"SB","q":"2013Q2","r":"D"},{"c":"SB","q":"2013Q3","r":"M"},{"c":"SB","q":"2013Q4","r":"D"},
{"c":"SB","q":"2014Q1","r":"D"},{"c":"SB","q":"2014Q2","r":"M"},{"c":"SB","q":"2014Q3","r":"D"},{"c":"SB","q":"2014Q4","r":"D"},
{"c":"SB","q":"2015Q1","r":"D"},{"c":"SB","q":"2015Q2","r":"D"},{"c":"SB","q":"2015Q3","r":"D"},{"c":"SB","q":"2015Q4","r":"B"},
{"c":"SB","q":"2016Q1","r":"B"},{"c":"SB","q":"2016Q2","r":"B"},{"c":"SB","q":"2016Q3","r":"G"},{"c":"SB","q":"2016Q4","r":"B"},
{"c":"SB","q":"2017Q1","r":"G"},{"c":"SB","q":"2017Q2","r":"B"},{"c":"SB","q":"2017Q3","r":"M"},{"c":"SB","q":"2017Q4","r":"B"},
{"c":"SB","q":"2018Q1","r":"M"},{"c":"SB","q":"2018Q2","r":"D"},{"c":"SB","q":"2018Q3","r":"M"},{"c":"SB","q":"2018Q4","r":"B"},
{"c":"SB","q":"2019Q1","r":"B"},{"c":"SB","q":"2019Q2","r":"M"},{"c":"SB","q":"2019Q3","r":"M"},{"c":"SB","q":"2019Q4","r":"B"},
{"c":"SB","q":"2020Q1","r":"B"},{"c":"SB","q":"2020Q2","r":"D"},{"c":"SB","q":"2020Q3","r":"B"},{"c":"SB","q":"2020Q4","r":"G"},
{"c":"SB","q":"2021Q1","r":"G"},{"c":"SB","q":"2021Q2","r":"G"},{"c":"SB","q":"2021Q3","r":"C"},{"c":"SB","q":"2021Q4","r":"G"},
{"c":"SB","q":"2022Q1","r":"G"},{"c":"SB","q":"2022Q2","r":"G"},{"c":"SB","q":"2022Q3","r":"G"},{"c":"SB","q":"2022Q4","r":"C"},
{"c":"SB","q":"2023Q1","r":"C"},{"c":"SB","q":"2023Q2","r":"C"},{"c":"SB","q":"2023Q3","r":"C"},{"c":"SB","q":"2023Q4","r":"G"},
{"c":"SB","q":"2024Q1","r":"G"},{"c":"SB","q":"2024Q2","r":"G"},{"c":"SB","q":"2024Q3","r":"G"},{"c":"SB","q":"2024Q4","r":"G"},
{"c":"CC","q":"2005Q4","r":"B"},
{"c":"CC","q":"2006Q1","r":"B"},{"c":"CC","q":"2006Q2","r":"G"},{"c":"CC","q":"2006Q3","r":"M"},{"c":"CC","q":"2006Q4","r":"B"},
{"c":"CC","q":"2007Q1","r":"G"},{"c":"CC","q":"2007Q2","r":"G"},{"c":"CC","q":"2007Q3","r":"G"},{"c":"CC","q":"2007Q4","r":"B"},
{"c":"CC","q":"2008Q1","r":"G"},{"c":"CC","q":"2008Q2","r":"C"},{"c":"CC","q":"2008Q3","r":"G"},{"c":"CC","q":"2008Q4","r":"B"},
{"c":"CC","q":"2009Q1","r":"G"},{"c":"CC","q":"2009Q2","r":"B"},{"c":"CC","q":"2009Q3","r":"B"},{"c":"CC","q":"2009Q4","r":"B"},
{"c":"CC","q":"2010Q1","r":"M"},{"c":"CC","q":"2010Q2","r":"D"},{"c":"CC","q":"2010Q3","r":"D"},{"c":"CC","q":"2010Q4","r":"D"},
{"c":"CC","q":"2011Q1","r":"B"},{"c":"CC","q":"2011Q2","r":"B"},{"c":"CC","q":"2011Q3","r":"B"},{"c":"CC","q":"2011Q4","r":"D"},
{"c":"CC","q":"2012Q1","r":"D"},{"c":"CC","q":"2012Q2","r":"M"},{"c":"CC","q":"2012Q3","r":"B"},{"c":"CC","q":"2012Q4","r":"B"},
{"c":"CC","q":"2013Q1","r":"B"},{"c":"CC","q":"2013Q2","r":"B"},{"c":"CC","q":"2013Q3","r":"B"},{"c":"CC","q":"2013Q4","r":"G"},
{"c":"CC","q":"2014Q1","r":"G"},{"c":"CC","q":"2014Q2","r":"B"},{"c":"CC","q":"2014Q3","r":"C"},{"c":"CC","q":"2014Q4","r":"G"},
{"c":"CC","q":"2015Q1","r":"C"},{"c":"CC","q":"2015Q2","r":"G"},{"c":"CC","q":"2015Q3","r":"G"},{"c":"CC","q":"2015Q4","r":"C"},
{"c":"CC","q":"2016Q1","r":"B"},{"c":"CC","q":"2016Q2","r":"C"},{"c":"CC","q":"2016Q3","r":"G"},{"c":"CC","q":"2016Q4","r":"B"},
{"c":"CC","q":"2017Q1","r":"D"},{"c":"CC","q":"2017Q2","r":"D"},{"c":"CC","q":"2017Q3","r":"M"},{"c":"CC","q":"2017Q4","r":"B"},
{"c":"CC","q":"2018Q1","r":"M"},{"c":"CC","q":"2018Q2","r":"B"},{"c":"CC","q":"2018Q3","r":"B"},{"c":"CC","q":"2018Q4","r":"B"},
{"c":"CC","q":"2019Q1","r":"B"},{"c":"CC","q":"2019Q2","r":"G"},{"c":"CC","q":"2019Q3","r":"C"},{"c":"CC","q":"2019Q4","r":"C"},
{"c":"CC","q":"2020Q1","r":"C"},{"c":"CC","q":"2020Q2","r":"C"},{"c":"CC","q":"2020Q3","r":"G"},{"c":"CC","q":"2020Q4","r":"B"},
{"c":"CC","q":"2021Q1","r":"B"},{"c":"CC","q":"2021Q2","r":"B"},{"c":"CC","q":"2021Q3","r":"M"},{"c":"CC","q":"2021Q4","r":"B"},
{"c":"CC","q":"2022Q1","r":"G"},{"c":"CC","q":"2022Q2","r":"B"},{"c":"CC","q":"2022Q3","r":"C"},{"c":"CC","q":"2022Q4","r":"C"},
{"c":"CC","q":"2023Q1","r":"C"},{"c":"CC","q":"2023Q2","r":"C"},{"c":"CC","q":"2023Q3","r":"C"},{"c":"CC","q":"2023Q4","r":"C"},
{"c":"CC","q":"2024Q1","r":"C"},{"c":"CC","q":"2024Q2","r":"C"},{"c":"CC","q":"2024Q3","r":"C"},{"c":"CC","q":"2024Q4","r":"C"},
{"c":"LC","q":"2005Q4","r":"G"},
{"c":"LC","q":"2006Q1","r":"B"},{"c":"LC","q":"2006Q2","r":"D"},{"c":"LC","q":"2006Q3","r":"B"},{"c":"LC","q":"2006Q4","r":"B"},
{"c":"LC","q":"2007Q1","r":"B"},{"c":"LC","q":"2007Q2","r":"B"},{"c":"LC","q":"2007Q3","r":"B"},{"c":"LC","q":"2007Q4","r":"M"},
{"c":"LC","q":"2008Q1","r":"D"},{"c":"LC","q":"2008Q2","r":"D"},{"c":"LC","q":"2008Q3","r":"M"},{"c":"LC","q":"2008Q4","r":"M"},
{"c":"LC","q":"2009Q1","r":"D"},{"c":"LC","q":"2009Q2","r":"D"},{"c":"LC","q":"2009Q3","r":"M"},{"c":"LC","q":"2009Q4","r":"M"},
{"c":"LC","q":"2010Q1","r":"B"},{"c":"LC","q":"2010Q2","r":"B"},{"c":"LC","q":"2010Q3","r":"B"},{"c":"LC","q":"2010Q4","r":"M"},
{"c":"LC","q":"2011Q1","r":"M"},{"c":"LC","q":"2011Q2","r":"D"},{"c":"LC","q":"2011Q3","r":"M"},{"c":"LC","q":"2011Q4","r":"M"},
{"c":"LC","q":"2012Q1","r":"B"},{"c":"LC","q":"2012Q2","r":"D"},{"c":"LC","q":"2012Q3","r":"D"},{"c":"LC","q":"2012Q4","r":"M"},
{"c":"LC","q":"2013Q1","r":"B"},{"c":"LC","q":"2013Q2","r":"M"},{"c":"LC","q":"2013Q3","r":"B"},{"c":"LC","q":"2013Q4","r":"B"},
{"c":"LC","q":"2014Q1","r":"G"},{"c":"LC","q":"2014Q2","r":"B"},{"c":"LC","q":"2014Q3","r":"G"},{"c":"LC","q":"2014Q4","r":"G"},
{"c":"LC","q":"2015Q1","r":"G"},{"c":"LC","q":"2015Q2","r":"G"},{"c":"LC","q":"2015Q3","r":"G"},{"c":"LC","q":"2015Q4","r":"G"},
{"c":"LC","q":"2016Q1","r":"C"},{"c":"LC","q":"2016Q2","r":"C"},{"c":"LC","q":"2016Q3","r":"G"},{"c":"LC","q":"2016Q4","r":"C"},
{"c":"LC","q":"2017Q1","r":"C"},{"c":"LC","q":"2017Q2","r":"C"},{"c":"LC","q":"2017Q3","r":"B"},{"c":"LC","q":"2017Q4","r":"G"},
{"c":"LC","q":"2018Q1","r":"G"},{"c":"LC","q":"2018Q2","r":"B"},{"c":"LC","q":"2018Q3","r":"B"},{"c":"LC","q":"2018Q4","r":"B"},
{"c":"LC","q":"2019Q1","r":"G"},{"c":"LC","q":"2019Q2","r":"B"},{"c":"LC","q":"2019Q3","r":"B"},{"c":"LC","q":"2019Q4","r":"B"},
{"c":"LC","q":"2020Q1","r":"B"},{"c":"LC","q":"2020Q2","r":"D"},{"c":"LC","q":"2020Q3","r":"B"},{"c":"LC","q":"2020Q4","r":"M"},
{"c":"LC","q":"2021Q1","r":"M"},{"c":"LC","q":"2021Q2","r":"D"},{"c":"LC","q":"2021Q3","r":"D"},{"c":"LC","q":"2021Q4","r":"M"},
{"c":"LC","q":"2022Q1","r":"M"},{"c":"LC","q":"2022Q2","r":"D"},{"c":"LC","q":"2022Q3","r":"M"},{"c":"LC","q":"2022Q4","r":"B"},
{"c":"LC","q":"2023Q1","r":"B"},{"c":"LC","q":"2023Q2","r":"B"},{"c":"LC","q":"2023Q3","r":"G"},{"c":"LC","q":"2023Q4","r":"B"},
{"c":"LC","q":"2024Q1","r":"B"},{"c":"LC","q":"2024Q2","r":"B"},{"c":"LC","q":"2024Q3","r":"G"},{"c":"LC","q":"2024Q4","r":"G"},
{"c":"LH","q":"2005Q4","r":"B"},
{"c":"LH","q":"2006Q1","r":"B"},{"c":"LH","q":"2006Q2","r":"B"},{"c":"LH","q":"2006Q3","r":"D"},{"c":"LH","q":"2006Q4","r":"D"},
{"c":"LH","q":"2007Q1","r":"D"},{"c":"LH","q":"2007Q2","r":"D"},{"c":"LH","q":"2007Q3","r":"D"},{"c":"LH","q":"2007Q4","r":"D"},
{"c":"LH","q":"2008Q1","r":"D"},{"c":"LH","q":"2008Q2","r":"D"},{"c":"LH","q":"2008Q3","r":"M"},{"c":"LH","q":"2008Q4","r":"M"},
{"c":"LH","q":"2009Q1","r":"M"},{"c":"LH","q":"2009Q2","r":"M"},{"c":"LH","q":"2009Q3","r":"D"},{"c":"LH","q":"2009Q4","r":"M"},
{"c":"LH","q":"2010Q1","r":"B"},{"c":"LH","q":"2010Q2","r":"B"},{"c":"LH","q":"2010Q3","r":"B"},{"c":"LH","q":"2010Q4","r":"B"},
{"c":"LH","q":"2011Q1","r":"B"},{"c":"LH","q":"2011Q2","r":"B"},{"c":"LH","q":"2011Q3","r":"B"},{"c":"LH","q":"2011Q4","r":"B"},
{"c":"LH","q":"2012Q1","r":"B"},{"c":"LH","q":"2012Q2","r":"B"},{"c":"LH","q":"2012Q3","r":"M"},{"c":"LH","q":"2012Q4","r":"B"},
{"c":"LH","q":"2013Q1","r":"B"},{"c":"LH","q":"2013Q2","r":"B"},{"c":"LH","q":"2013Q3","r":"G"},{"c":"LH","q":"2013Q4","r":"G"},
{"c":"LH","q":"2014Q1","r":"G"},{"c":"LH","q":"2014Q2","r":"C"},{"c":"LH","q":"2014Q3","r":"G"},{"c":"LH","q":"2014Q4","r":"G"},
{"c":"LH","q":"2015Q1","r":"B"},{"c":"LH","q":"2015Q2","r":"B"},{"c":"LH","q":"2015Q3","r":"B"},{"c":"LH","q":"2015Q4","r":"M"},
{"c":"LH","q":"2016Q1","r":"B"},{"c":"LH","q":"2016Q2","r":"B"},{"c":"LH","q":"2016Q3","r":"M"},{"c":"LH","q":"2016Q4","r":"M"},
{"c":"LH","q":"2017Q1","r":"B"},{"c":"LH","q":"2017Q2","r":"M"},{"c":"LH","q":"2017Q3","r":"B"},{"c":"LH","q":"2017Q4","r":"B"},
{"c":"LH","q":"2018Q1","r":"B"},{"c":"LH","q":"2018Q2","r":"B"},{"c":"LH","q":"2018Q3","r":"M"},{"c":"LH","q":"2018Q4","r":"B"},
{"c":"LH","q":"2019Q1","r":"M"},{"c":"LH","q":"2019Q2","r":"M"},{"c":"LH","q":"2019Q3","r":"M"},{"c":"LH","q":"2019Q4","r":"B"},
{"c":"LH","q":"2020Q1","r":"M"},{"c":"LH","q":"2020Q2","r":"D"},{"c":"LH","q":"2020Q3","r":"D"},{"c":"LH","q":"2020Q4","r":"B"},
{"c":"LH","q":"2021Q1","r":"G"},{"c":"LH","q":"2021Q2","r":"G"},{"c":"LH","q":"2021Q3","r":"G"},{"c":"LH","q":"2021Q4","r":"B"},
{"c":"LH","q":"2022Q1","r":"G"},{"c":"LH","q":"2022Q2","r":"G"},{"c":"LH","q":"2022Q3","r":"G"},{"c":"LH","q":"2022Q4","r":"B"},
{"c":"LH","q":"2023Q1","r":"B"},{"c":"LH","q":"2023Q2","r":"M"},{"c":"LH","q":"2023Q3","r":"B"},{"c":"LH","q":"2023Q4","r":"M"},
{"c":"LH","q":"2024Q1","r":"G"},{"c":"LH","q":"2024Q2","r":"G"},{"c":"LH","q":"2024Q3","r":"B"},{"c":"LH","q":"2024Q4","r":"G"},
{"c":"FC","q":"2005Q4","r":"M"},
{"c":"FC","q":"2006Q1","r":"M"},{"c":"FC","q":"2006Q2","r":"B"},{"c":"FC","q":"2006Q3","r":"B"},{"c":"FC","q":"2006Q4","r":"D"},
{"c":"FC","q":"2007Q1","r":"M"},{"c":"FC","q":"2007Q2","r":"B"},{"c":"FC","q":"2007Q3","r":"B"},{"c":"FC","q":"2007Q4","r":"D"},
{"c":"FC","q":"2008Q1","r":"D"},{"c":"FC","q":"2008Q2","r":"M"},{"c":"FC","q":"2008Q3","r":"M"},{"c":"FC","q":"2008Q4","r":"D"},
{"c":"FC","q":"2009Q1","r":"D"},{"c":"FC","q":"2009Q2","r":"B"},{"c":"FC","q":"2009Q3","r":"M"},{"c":"FC","q":"2009Q4","r":"D"},
{"c":"FC","q":"2010Q1","r":"M"},{"c":"FC","q":"2010Q2","r":"B"},{"c":"FC","q":"2010Q3","r":"B"},{"c":"FC","q":"2010Q4","r":"M"},
{"c":"FC","q":"2011Q1","r":"M"},{"c":"FC","q":"2011Q2","r":"B"},{"c":"FC","q":"2011Q3","r":"D"},{"c":"FC","q":"2011Q4","r":"M"},
{"c":"FC","q":"2012Q1","r":"M"},{"c":"FC","q":"2012Q2","r":"M"},{"c":"FC","q":"2012Q3","r":"D"},{"c":"FC","q":"2012Q4","r":"D"},
{"c":"FC","q":"2013Q1","r":"D"},{"c":"FC","q":"2013Q2","r":"D"},{"c":"FC","q":"2013Q3","r":"B"},{"c":"FC","q":"2013Q4","r":"B"},
{"c":"FC","q":"2014Q1","r":"B"},{"c":"FC","q":"2014Q2","r":"B"},{"c":"FC","q":"2014Q3","r":"G"},{"c":"FC","q":"2014Q4","r":"B"},
{"c":"FC","q":"2015Q1","r":"B"},{"c":"FC","q":"2015Q2","r":"G"},{"c":"FC","q":"2015Q3","r":"G"},{"c":"FC","q":"2015Q4","r":"B"},
{"c":"FC","q":"2016Q1","r":"G"},{"c":"FC","q":"2016Q2","r":"C"},{"c":"FC","q":"2016Q3","r":"G"},{"c":"FC","q":"2016Q4","r":"G"},
{"c":"FC","q":"2017Q1","r":"B"},{"c":"FC","q":"2017Q2","r":"G"},{"c":"FC","q":"2017Q3","r":"B"},{"c":"FC","q":"2017Q4","r":"B"},
{"c":"FC","q":"2018Q1","r":"B"},{"c":"FC","q":"2018Q2","r":"B"},{"c":"FC","q":"2018Q3","r":"B"},{"c":"FC","q":"2018Q4","r":"B"},
{"c":"FC","q":"2019Q1","r":"M"},{"c":"FC","q":"2019Q2","r":"B"},{"c":"FC","q":"2019Q3","r":"B"},{"c":"FC","q":"2019Q4","r":"D"},
{"c":"FC","q":"2020Q1","r":"D"},{"c":"FC","q":"2020Q2","r":"D"},{"c":"FC","q":"2020Q3","r":"B"},{"c":"FC","q":"2020Q4","r":"D"},
{"c":"FC","q":"2021Q1","r":"D"},{"c":"FC","q":"2021Q2","r":"D"},{"c":"FC","q":"2021Q3","r":"M"},{"c":"FC","q":"2021Q4","r":"D"},
{"c":"FC","q":"2022Q1","r":"D"},{"c":"FC","q":"2022Q2","r":"D"},{"c":"FC","q":"2022Q3","r":"M"},{"c":"FC","q":"2022Q4","r":"D"},
{"c":"FC","q":"2023Q1","r":"D"},{"c":"FC","q":"2023Q2","r":"B"},{"c":"FC","q":"2023Q3","r":"B"},{"c":"FC","q":"2023Q4","r":"D"},
{"c":"FC","q":"2024Q1","r":"B"},{"c":"FC","q":"2024Q2","r":"B"},{"c":"FC","q":"2024Q3","r":"G"},{"c":"FC","q":"2024Q4","r":"B"},
{"c":"LB","q":"2005Q4","r":"B"},
{"c":"LB","q":"2006Q1","r":"B"},{"c":"LB","q":"2006Q2","r":"B"},{"c":"LB","q":"2006Q3","r":"D"},{"c":"LB","q":"2006Q4","r":"D"},
{"c":"LB","q":"2007Q1","r":"B"},{"c":"LB","q":"2007Q2","r":"B"},{"c":"LB","q":"2007Q3","r":"D"},{"c":"LB","q":"2007Q4","r":"M"},
{"c":"LB","q":"2008Q1","r":"D"},{"c":"LB","q":"2008Q2","r":"D"},{"c":"LB","q":"2008Q3","r":"M"},{"c":"LB","q":"2008Q4","r":"D"},
{"c":"LB","q":"2009Q1","r":"D"},{"c":"LB","q":"2009Q2","r":"M"},{"c":"LB","q":"2009Q3","r":"D"},{"c":"LB","q":"2009Q4","r":"B"},
{"c":"LB","q":"2010Q1","r":"B"},{"c":"LB","q":"2010Q2","r":"D"},{"c":"LB","q":"2010Q3","r":"D"},{"c":"LB","q":"2010Q4","r":"B"},
{"c":"LB","q":"2011Q1","r":"G"},{"c":"LB","q":"2011Q2","r":"D"},{"c":"LB","q":"2011Q3","r":"M"},{"c":"LB","q":"2011Q4","r":"M"},
{"c":"LB","q":"2012Q1","r":"B"},{"c":"LB","q":"2012Q2","r":"B"},{"c":"LB","q":"2012Q3","r":"B"},{"c":"LB","q":"2012Q4","r":"G"},
{"c":"LB","q":"2013Q1","r":"G"},{"c":"LB","q":"2013Q2","r":"B"},{"c":"LB","q":"2013Q3","r":"B"},{"c":"LB","q":"2013Q4","r":"G"},
{"c":"LB","q":"2014Q1","r":"G"},{"c":"LB","q":"2014Q2","r":"B"},{"c":"LB","q":"2014Q3","r":"B"},{"c":"LB","q":"2014Q4","r":"G"},
{"c":"LB","q":"2015Q1","r":"G"},{"c":"LB","q":"2015Q2","r":"B"},{"c":"LB","q":"2015Q3","r":"M"},{"c":"LB","q":"2015Q4","r":"B"},
{"c":"LB","q":"2016Q1","r":"B"},{"c":"LB","q":"2016Q2","r":"B"},{"c":"LB","q":"2016Q3","r":"B"},{"c":"LB","q":"2016Q4","r":"B"},
{"c":"LB","q":"2017Q1","r":"B"},{"c":"LB","q":"2017Q2","r":"G"},{"c":"LB","q":"2017Q3","r":"G"},{"c":"LB","q":"2017Q4","r":"C"},
{"c":"LB","q":"2018Q1","r":"C"},{"c":"LB","q":"2018Q2","r":"C"},{"c":"LB","q":"2018Q3","r":"C"},{"c":"LB","q":"2018Q4","r":"B"},
{"c":"LB","q":"2019Q1","r":"G"},{"c":"LB","q":"2019Q2","r":"G"},{"c":"LB","q":"2019Q3","r":"B"},{"c":"LB","q":"2019Q4","r":"G"},
{"c":"LB","q":"2020Q1","r":"B"},{"c":"LB","q":"2020Q2","r":"B"},{"c":"LB","q":"2020Q3","r":"C"},{"c":"LB","q":"2020Q4","r":"C"},
{"c":"LB","q":"2021Q1","r":"C"},{"c":"LB","q":"2021Q2","r":"C"},{"c":"LB","q":"2021Q3","r":"B"},{"c":"LB","q":"2021Q4","r":"B"},
{"c":"LB","q":"2022Q1","r":"C"},{"c":"LB","q":"2022Q2","r":"B"},{"c":"LB","q":"2022Q3","r":"B"},{"c":"LB","q":"2022Q4","r":"B"},
{"c":"LB","q":"2023Q1","r":"N"},{"c":"LB","q":"2023Q2","r":"N"},{"c":"LB","q":"2023Q3","r":"N"},{"c":"LB","q":"2023Q4","r":"N"},
{"c":"LB","q":"2024Q1","r":"N"},{"c":"LB","q":"2024Q2","r":"N"},{"c":"LB","q":"2024Q3","r":"N"},{"c":"LB","q":"2024Q4","r":"N"}
]},
"transform": [{"lookup": "r", "from": {"data": {"name": "regimes"}, "key": "r", "fields": ["regime"]}}],
"mark": {"type": "rect", "stroke": "#0b0c0e", "strokeWidth": 2.6},
"encoding": {
"x": {"field": "q", "type": "ordinal", "title": "Quarter",
 "scale": {"paddingInner": 0, "paddingOuter": 0},
 "axis": {"values": ["2005Q4","2006Q1","2007Q1","2008Q1","2009Q1","2010Q1","2011Q1","2012Q1","2013Q1","2014Q1","2015Q1","2016Q1","2017Q1","2018Q1","2019Q1","2020Q1","2021Q1","2022Q1","2023Q1","2024Q1"],
  "labelExpr": "slice(datum.value, 0, 4)", "bandPosition": 0, "labelAngle": -45, "labelAlign": "right", "labelBaseline": "bottom",
  "labelFont": "DejaVu Sans Mono", "labelFontSize": 33, "labelColor": "#d0d0d0", "labelPadding": 36, "labelOverlap": false,
  "tickColor": "#8a8a8a", "tickSize": 10, "tickWidth": 2, "domain": false, "grid": false,
  "titleFont": "DejaVu Sans Mono", "titleFontSize": 36, "titleFontWeight": "normal", "titleColor": "#e0e0e0", "titleY": 145, "titleBaseline": "middle"}},
"y": {"field": "c", "type": "nominal", "title": "Commodity",
 "sort": ["CL","NG","HO","RB","GC","SI","HG","PA","PL","ZC","ZS","ZW","KC","SB","CC","LC","LH","FC","LB"],
 "scale": {"paddingInner": 0, "paddingOuter": 0},
 "axis": {"labelAngle": 270, "labelAlign": "center", "labelBaseline": "bottom", "labelFont": "DejaVu Sans Mono", "labelFontSize": 31, "labelColor": "#d0d0d0", "labelPadding": 17,
  "tickColor": "#d8d8d8", "tickSize": 10, "tickWidth": 2.5, "domain": false, "grid": false,
  "titleFont": "DejaVu Sans Mono", "titleFontSize": 36, "titleFontWeight": "normal", "titleColor": "#e0e0e0", "titleX": -97, "titleBaseline": "middle", "titleAlign": "center"}},
"color": {"field": "regime", "type": "nominal",
 "scale": {"domain": ["Deep Contango","Mild Contango","Balanced","Mild Backwardation","Crisis Backwardation","No Data"], "range": ["#b97c6e","#c4b68e","#28292c","#6b9171","#8ca992","#111214"]},
 "legend": {"orient": "none", "legendX": 3304.5, "legendY": 15, "title": null, "direction": "vertical",
  "values": ["Deep Contango","Mild Contango","Balanced","Mild Backwardation","Crisis Backwardation"],
  "labelFont": "DejaVu Sans Mono", "labelFontSize": 34, "labelColor": "#e0e0e0", "labelOffset": 23, "labelLimit": 0,
  "symbolType": "M-1,-0.8H1V0.8H-1Z", "symbolSize": 1225, "symbolStrokeWidth": 0, "symbolOpacity": 1,
  "padding": 13, "rowPadding": 15, "strokeColor": "#a0a0a0", "fillColor": "#111214", "cornerRadius": 8,
  "encode": {"legend": {"update": {"strokeWidth": {"value": 2}}}}}}
}
}
